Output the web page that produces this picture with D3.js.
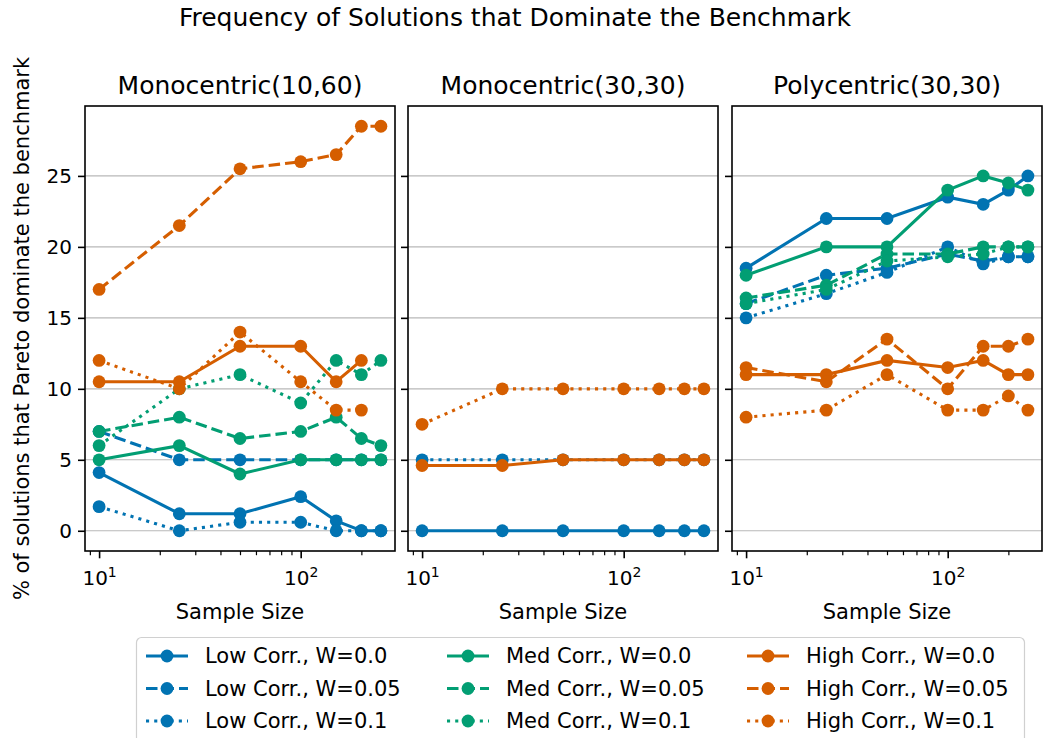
<!DOCTYPE html>
<html>
<head>
<meta charset="utf-8">
<script src="https://cdn.jsdelivr.net/npm/d3@7"></script>
<style>
  body { margin: 0; background: #fff; }
  svg { display: block; font-family: "DejaVu Sans", sans-serif; }
</style>
</head>
<body>
<svg id="chart" width="1045" height="738"></svg>
<script>
// ---- data -------------------------------------------------------------
const sampleSizes = [10, 25, 50, 100, 150, 200, 250];
const panelTitles = ["Monocentric(10,60)", "Monocentric(30,30)", "Polycentric(30,30)"];
const corrLabels = ["Low Corr.", "Med Corr.", "High Corr."];
const weightLabels = ["W=0.0", "W=0.05", "W=0.1"];
const corrColors = ["#0173b2", "#029e73", "#d55e00"];
const yTickValues = [0, 5, 10, 15, 20, 25];

// Row order: Low W=0.0, Low W=0.05, Low W=0.1, Med W=0.0, Med W=0.05, Med W=0.1,
//            High W=0.0, High W=0.05, High W=0.1  (null = no result)
const mono1060 = [
  [4.1, 1.2, 1.2, 2.4, 0.7, 0, 0],
  [7, 5, 5, 5, 5, 5, 5],
  [1.7, 0, 0.6, 0.6, 0, 0, 0],
  [5, 6, 4, 5, 5, 5, 5],
  [7, 8, 6.5, 7, 8, 6.5, 6],
  [6, 10, 11, 9, 12, 11, 12],
  [10.5, 10.5, 13, 13, 10.5, 12, null],
  [17, 21.5, 25.5, 26, 26.5, 28.5, 28.5],
  [12, 10, 14, 10.5, 8.5, 8.5, null]
];
const mono3030 = [
  [0, 0, 0, 0, 0, 0, 0],
  [null, null, null, null, null, null, null],
  [5, 5, 5, 5, 5, 5, 5],
  [null, null, null, null, null, null, null],
  [null, null, null, null, null, null, null],
  [null, null, null, null, null, null, null],
  [4.6, 4.6, 5, 5, 5, 5, 5],
  [null, null, null, null, null, null, null],
  [7.5, 10, 10, 10, 10, 10, 10]
];
const poly3030 = [
  [18.5, 22, 22, 23.5, 23, 24, 25],
  [16, 18, 18.5, 19.5, 19, 19.3, 19.3],
  [15, 16.7, 18.2, 20, 18.8, 19.3, 19.3],
  [18, 20, 20, 24, 25, 24.5, 24],
  [16.4, 17.3, 19.5, 19.5, 20, 20, 20],
  [16, 17, 19, 19.3, 19.5, 20, 20],
  [11, 11, 12, 11.5, 12, 11, 11],
  [11.5, 10.5, 13.5, 10, 13, 13, 13.5],
  [8, 8.5, 11, 8.5, 8.5, 9.5, 8.5]
];
const panelData = [mono1060, mono3030, poly3030];

// ---- layout -----------------------------------------------------------
const svg = d3.select("#chart");
const panelLeft = [85, 408, 732];
const panelW = 310;
const plotTop = 106, plotBottom = 551;
const lineW = 3.1, markerR = 6.4;
const dashFor = ["none", "11.5,5", "3.1,5.1"];
const textColor = "#000";

// shared scales with 5% padding, as an autoscaled log/linear axis would have
const lx0 = Math.log10(d3.min(sampleSizes)), lx1 = Math.log10(d3.max(sampleSizes));
const xPad = 0.05 * (lx1 - lx0);
const x = d3.scaleLog().domain([10 ** (lx0 - xPad), 10 ** (lx1 + xPad)]).range([0, panelW]);

const allVals = panelData.flat(2).filter(v => v !== null);
const y0 = d3.min(allVals), y1 = d3.max(allVals);
const yPad = 0.05 * (y1 - y0);
const y = d3.scaleLinear().domain([y0 - yPad, y1 + yPad]).range([plotBottom, plotTop]);

// ---- titles -----------------------------------------------------------
svg.append("text")
  .attr("x", 515).attr("y", 26)
  .attr("text-anchor", "middle")
  .attr("font-size", 25).attr("fill", textColor)
  .text("Frequency of Solutions that Dominate the Benchmark");

svg.append("text")
  .attr("transform", `translate(22,${(plotTop + plotBottom) / 2}) rotate(-90)`)
  .attr("text-anchor", "middle")
  .attr("dominant-baseline", "central")
  .attr("font-size", 21).attr("fill", textColor)
  .text("% of solutions that Pareto dominate the benchmark");

const seriesLine = d3.line()
  .defined(d => d.v !== null)
  .x(d => x(d.s))
  .y(d => y(d.v));

const minorTicks = [9, 20, 30, 40, 50, 60, 70, 80, 90, 200];
const majorTicks = [10, 100];

panelData.forEach((rows, p) => {
  const g = svg.append("g").attr("transform", `translate(${panelLeft[p]},0)`);

  // horizontal grid
  g.append("g").selectAll("line").data(yTickValues).join("line")
    .attr("x1", 0).attr("x2", panelW)
    .attr("y1", d => y(d)).attr("y2", d => y(d))
    .attr("stroke", "#b8b8b8").attr("stroke-width", 1.1);

  // series: line first, markers on top, in legend order
  rows.forEach((vals, i) => {
    const c = Math.floor(i / 3), w = i % 3;
    const pts = sampleSizes.map((s, k) => ({ s, v: vals[k] }));
    const sg = g.append("g");
    sg.append("path")
      .attr("d", seriesLine(pts))
      .attr("fill", "none")
      .attr("stroke", corrColors[c])
      .attr("stroke-width", lineW)
      .attr("stroke-dasharray", dashFor[w]);
    sg.selectAll("circle").data(pts.filter(d => d.v !== null)).join("circle")
      .attr("cx", d => x(d.s)).attr("cy", d => y(d.v))
      .attr("r", markerR)
      .attr("fill", corrColors[c]);
  });

  // frame
  g.append("rect")
    .attr("x", 0).attr("y", plotTop)
    .attr("width", panelW).attr("height", plotBottom - plotTop)
    .attr("fill", "none").attr("stroke", "#000").attr("stroke-width", 1.6);

  // y axis ticks (labels only on the first panel)
  const ya = g.append("g").call(
    d3.axisLeft(y).tickValues(yTickValues).tickSize(7).tickPadding(6)
      .tickFormat(p === 0 ? d3.format("d") : () => "")
  );
  ya.select(".domain").remove();
  ya.selectAll(".tick line").attr("stroke", "#000").attr("stroke-width", 1.6);
  ya.selectAll(".tick text").attr("font-size", 20).attr("fill", textColor)
    .attr("font-family", "DejaVu Sans");

  // x axis: minor and major ticks on the log scale
  const xMinor = g.append("g").attr("transform", `translate(0,${plotBottom})`)
    .call(d3.axisBottom(x).tickValues(minorTicks).tickSize(4.2).tickFormat(() => ""));
  xMinor.select(".domain").remove();
  xMinor.selectAll(".tick line").attr("stroke", "#000").attr("stroke-width", 1.2);

  const xMajor = g.append("g").attr("transform", `translate(0,${plotBottom})`)
    .call(d3.axisBottom(x).tickValues(majorTicks).tickSize(7.3).tickFormat(() => ""));
  xMajor.select(".domain").remove();
  xMajor.selectAll(".tick line").attr("stroke", "#000").attr("stroke-width", 1.6);
  xMajor.selectAll(".tick").each(function (d) {
    const t = d3.select(this).append("text")
      .attr("y", 34).attr("text-anchor", "middle")
      .attr("font-size", 20).attr("fill", textColor)
      .attr("font-family", "DejaVu Sans");
    t.append("tspan").text("10");
    t.append("tspan").attr("dy", -8).attr("font-size", 14).text(String(Math.round(Math.log10(d))));
  });

  g.append("text")
    .attr("x", panelW / 2).attr("y", 619)
    .attr("text-anchor", "middle")
    .attr("font-size", 21).attr("fill", textColor)
    .text("Sample Size");

  g.append("text")
    .attr("x", panelW / 2).attr("y", 94)
    .attr("text-anchor", "middle")
    .attr("font-size", 25).attr("fill", textColor)
    .text(panelTitles[p]);
});

// ---- legend -----------------------------------------------------------
const legend = svg.append("g");
legend.append("rect")
  .attr("x", 136.5).attr("y", 637.5)
  .attr("width", 888).attr("height", 118)
  .attr("rx", 5)
  .attr("fill", "#fff").attr("fill-opacity", 0.8)
  .attr("stroke", "#d0d0d0").attr("stroke-width", 1.2);

const colText = [205, 506, 806];
const rowY = [656, 688.5, 721];
corrLabels.forEach((cl, c) => {
  weightLabels.forEach((wl, w) => {
    const item = legend.append("g");
    const tx = colText[c], ty = rowY[w];
    item.append("line")
      .attr("x1", tx - 59).attr("x2", tx - 17)
      .attr("y1", ty).attr("y2", ty)
      .attr("stroke", corrColors[c]).attr("stroke-width", lineW)
      .attr("stroke-dasharray", dashFor[w]);
    item.append("circle")
      .attr("cx", tx - 38).attr("cy", ty).attr("r", markerR)
      .attr("fill", corrColors[c]);
    item.append("text")
      .attr("x", tx).attr("y", ty)
      .attr("dominant-baseline", "central")
      .attr("font-size", 21).attr("fill", textColor)
      .text(`${cl}, ${wl}`);
  });
});
</script>
</body>
</html>
